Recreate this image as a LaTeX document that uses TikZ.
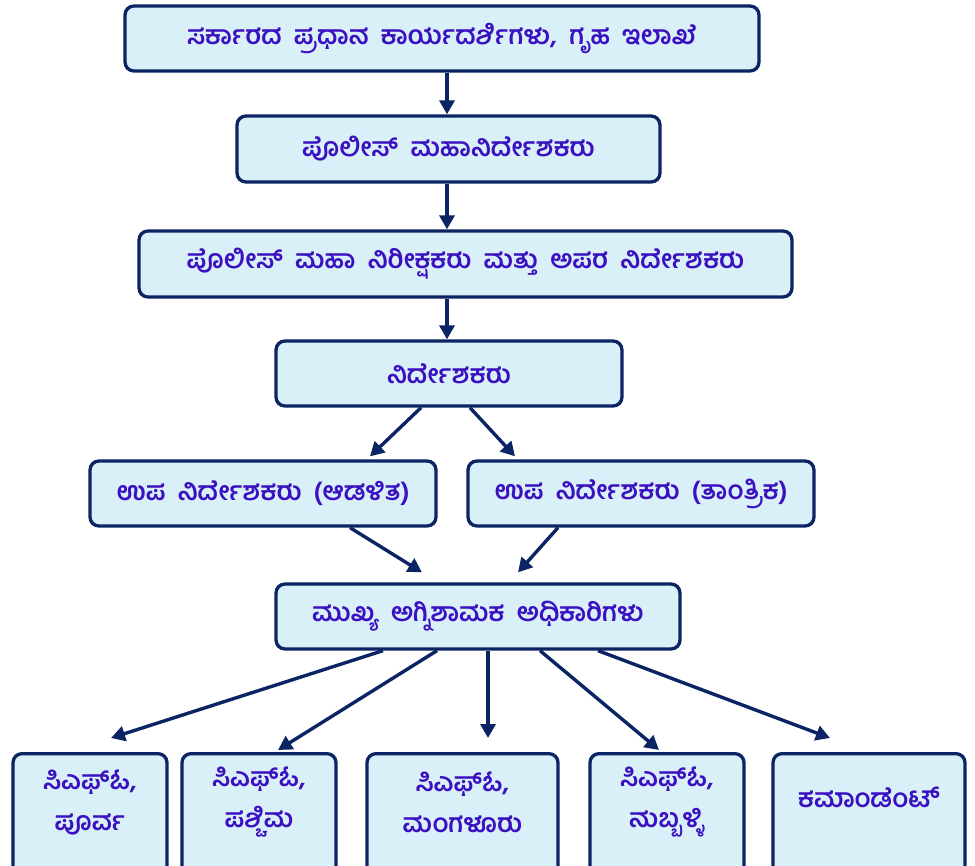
\documentclass[tikz,border=0pt]{standalone}
\usepackage{fontspec}
\newfontfamily\kn[Script=Kannada,WordSpace=1.9]{Hind Mysuru}
\usepackage{tikz}
\usetikzlibrary{arrows.meta,positioning}
\definecolor{boxline}{HTML}{0B2463}
\definecolor{boxfill}{HTML}{D9F0F8}
\definecolor{boxtext}{HTML}{3A10C0}

\begin{document}
\begin{tikzpicture}[x=1pt,y=-1pt]
                \tikzstyle{post}=[draw=boxline,line width=3.3pt,rounded corners=9pt,fill=boxfill,inner sep=0pt]
                \tikzstyle{lbl}=[text=boxtext,font=\kn\bfseries\fontsize{26}{41}\selectfont,align=center,inner sep=0pt]
                \tikzstyle{link}=[draw=boxline,line width=3.4pt,-{Triangle[length=14pt,width=15pt]}]
                \useasboundingbox (0,0) rectangle (975,866);
                % top chain
                \node [post,minimum width=634pt,minimum height=65pt] (b1) at (442,38.5) {};
                \node [lbl] (t1) at (b1) {ಸರ್ಕಾರದ ಪ್ರಧಾನ ಕಾರ್ಯದರ್ಶಿಗಳು, ಗೃಹ ಇಲಾಖೆ};
                \node [post,minimum width=423pt,minimum height=66pt] (b2) at (448.5,149) {};
                \node [lbl] (t2) at (b2) {ಪೊಲೀಸ್ ಮಹಾನಿರ್ದೇಶಕರು};
                \node [post,minimum width=653pt,minimum height=66pt] (b3) at (465.5,264) {};
                \node [lbl] (t3) at (b3) {ಪೊಲೀಸ್ ಮಹಾ ನಿರೀಕ್ಷಕರು ಮತ್ತು ಅಪರ ನಿರ್ದೇಶಕರು};
                \node [post,minimum width=346pt,minimum height=65pt] (b4) at (449,373.5) {};
                \node [lbl] (t4) at (b4) {ನಿರ್ದೇಶಕರು};
                \node [post,minimum width=346pt,minimum height=65pt] (b5) at (263,493.5) {};
                \node [lbl] (t5) at (b5) {ಉಪ ನಿರ್ದೇಶಕರು (ಆಡಳಿತ)};
                \node [post,minimum width=346pt,minimum height=65pt] (b6) at (641,493.5) {};
                \node [lbl] (t6) at (b6) {ಉಪ ನಿರ್ದೇಶಕರು (ತಾಂತ್ರಿಕ)};
                \node [post,minimum width=404pt,minimum height=65pt] (b7) at (478,616.5) {};
                \node [lbl] (t7) at (b7) {ಮುಖ್ಯ ಅಗ್ನಿಶಾಮಕ ಅಧಿಕಾರಿಗಳು};
                % bottom row
                \node [post,anchor=north,minimum width=154pt,minimum height=150pt] (b8) at (90,752) {};
                \node [lbl] (t8) at (90,802) {ಸಿಎಫ್‌ಓ,\\ಪೂರ್ವ};
                \node [post,anchor=north,minimum width=154pt,minimum height=150pt] (b9) at (259,752) {};
                \node [lbl] (t9) at (259,802) {ಸಿಎಫ್‌ಓ,\\ಪಶ್ಚಿಮ};
                \node [post,anchor=north,minimum width=191pt,minimum height=150pt] (b10) at (462.5,752) {};
                \node [lbl] (t10) at (462.5,802) {ಸಿಎಫ್‌ಓ,\\ಮಂಗಳೂರು};
                \node [post,anchor=north,minimum width=154pt,minimum height=150pt] (b11) at (667,752) {};
                \node [lbl] (t11) at (667,802) {ಸಿಎಫ್‌ಓ,\\ಹುಬ್ಬಳ್ಳಿ};
                \node [post,anchor=north,minimum width=192pt,minimum height=150pt] (b12) at (869,752) {};
                \node [lbl] (t12) at (869,797) {ಕಮಾಂಡೆಂಟ್};
                % arrows
                \draw [link] ([xshift=5pt]b1.south) -- ([xshift=-1.5pt]b2.north);
                \draw [link] ([xshift=-1.5pt]b2.south) -- ([xshift=-18.5pt]b3.north);
                \draw [link] ([xshift=-18.5pt]b3.south) -- ([xshift=-2pt]b4.north);
                \draw [link] ([xshift=-28pt]b4.south) -- ([xshift=107pt,yshift=3pt]b5.north);
                \draw [link] ([xshift=21pt]b4.south) -- ([xshift=-126pt,yshift=3pt]b6.north);
                \draw [link] ([xshift=87pt]b5.south) -- ([xshift=-56pt,yshift=10pt]b7.north);
                \draw [link] ([xshift=-83pt]b6.south) -- ([xshift=40pt,yshift=10pt]b7.north);
                \draw [link] ([xshift=-95pt]b7.south) -- ([xshift=21pt,yshift=14pt]b8.north);
                \draw [link] ([xshift=-41pt]b7.south) -- ([xshift=19pt,yshift=2pt]b9.north);
                \draw [link] ([xshift=10pt]b7.south) -- ([xshift=25.5pt,yshift=14pt]b10.north);
                \draw [link] ([xshift=62pt]b7.south) -- ([xshift=-8pt,yshift=2pt]b11.north);
                \draw [link] ([xshift=120pt]b7.south) -- ([xshift=-39pt,yshift=14pt]b12.north);
\end{tikzpicture}
\end{document}
